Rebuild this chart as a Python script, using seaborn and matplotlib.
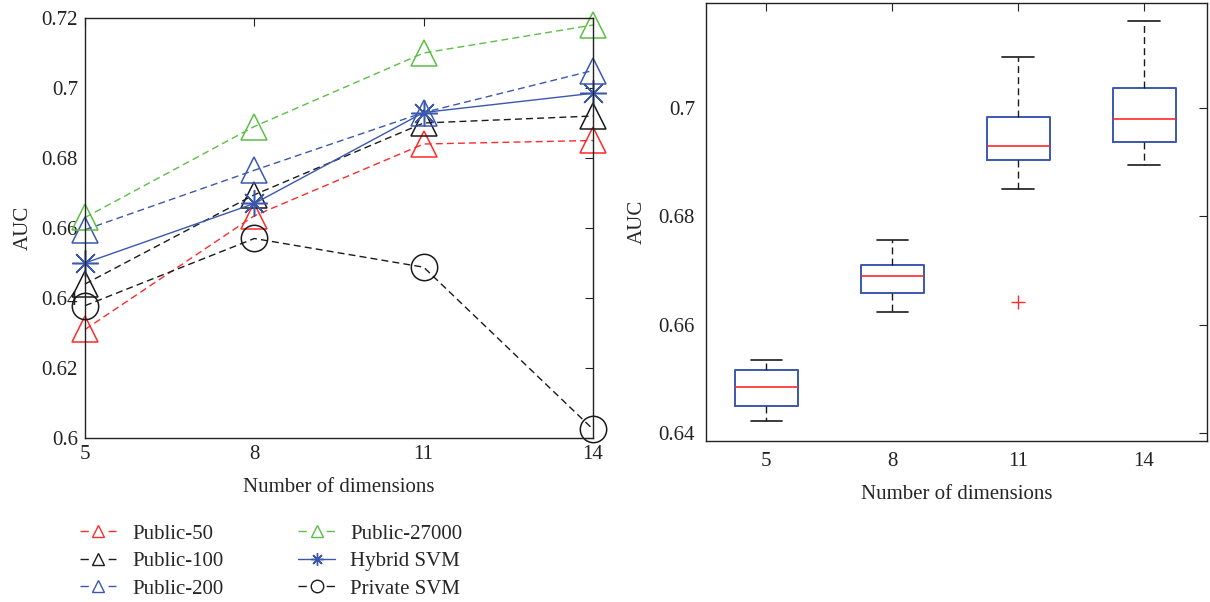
import numpy as np
import pandas as pd
import seaborn as sns
import matplotlib
matplotlib.use("Agg")
import matplotlib.pyplot as plt
from matplotlib.lines import Line2D

# ---------------- data ----------------
dims = [5, 8, 11, 14]
public_50 = [0.631, 0.6635, 0.684, 0.685]
public_100 = [0.644, 0.6695, 0.690, 0.692]
public_200 = [0.6595, 0.6765, 0.693, 0.705]
public_27000 = [0.663, 0.689, 0.710, 0.718]
hybrid_svm = [0.650, 0.667, 0.693, 0.6985]
private_svm = [0.6378, 0.657, 0.6488, 0.6025]

box_labels = ["5", "8", "11", "14"]
box_5 = [0.6423, 0.6450, 0.6485, 0.6517, 0.6535]
box_8 = [0.6623, 0.6658, 0.6690, 0.6711, 0.6757]
box_11 = [0.6643, 0.6851, 0.6904, 0.6915, 0.6930, 0.6955, 0.6983, 0.7040, 0.7094]
box_14 = [0.6895, 0.6936, 0.6980, 0.7036, 0.7159]

left_yticks = [0.6, 0.62, 0.64, 0.66, 0.68, 0.7, 0.72]
right_yticks = [0.64, 0.66, 0.68, 0.7]

# ---------------- style ----------------
sns.set_style("white")
plt.rcParams["font.family"] = ["Liberation Serif", "DejaVu Serif"]
plt.rcParams["xtick.direction"] = "in"
plt.rcParams["ytick.direction"] = "in"
FS = 15

RED = "#ff2a2a"
BLACK = "#1a1a1a"
BLUE = "#3a58b0"
GREEN = "#5cbf45"

fig = plt.figure(figsize=(12.10, 6.02), dpi=100)
ax1 = fig.add_axes([85 / 1210, 1 - 438 / 602, 508 / 1210, 420 / 602])
ax2 = fig.add_axes([706 / 1210, 1 - 441 / 602, 501 / 1210, 438 / 602])

series = [
    ("Public-50", public_50, RED, "^", True),
    ("Public-100", public_100, BLACK, "^", True),
    ("Public-200", public_200, BLUE, "^", True),
    ("Public-27000", public_27000, GREEN, "^", True),
    ("Hybrid SVM", hybrid_svm, BLUE, (8, 2, 0), False),
    ("Private SVM", private_svm, BLACK, "o", True),
]

handles = []
for name, vals, col, mk, dashed in series:
    df = pd.DataFrame({"dim": dims, "auc": vals})
    kw = dict(color=col, marker=mk, markersize=19, markerfacecolor="none",
              markeredgecolor=col, markeredgewidth=1.1, linewidth=1.0,
              clip_on=False)
    sns.lineplot(data=df, x="dim", y="auc", ax=ax1, legend=False, **kw)
    ln = ax1.lines[-1]
    if dashed:
        ln.set_dashes((5, 3))
    # legend proxy: short dash - marker - short dash
    h = Line2D([], [], color=col, marker=mk, markersize=9,
               markerfacecolor="none", markeredgecolor=col,
               markeredgewidth=1.0, linewidth=1.0)
    if dashed:
        h.set_dashes((6, 14.25))
    handles.append((h, name))

if ax1.get_legend() is not None:
    ax1.get_legend().remove()

ax1.set_xlim(5, 14)
ax1.set_ylim(0.6, 0.72)
ax1.set_xticks(dims)
ax1.set_xticklabels([str(d) for d in dims], fontsize=FS)
ax1.set_yticks(left_yticks)
ax1.set_yticklabels(["%g" % v for v in left_yticks], fontsize=FS)
ax1.set_xlabel("Number of dimensions", fontsize=FS, labelpad=10)
ax1.set_ylabel("AUC", fontsize=FS, labelpad=6)
ax1.tick_params(top=True, right=True, length=6, width=0.8, pad=5, colors="#222222")

for sp in ax1.spines.values():
    sp.set_color("#222222")
    sp.set_linewidth(1.0)

leg = fig.legend([h for h, _ in handles], [n for _, n in handles], loc="upper left",
                 bbox_to_anchor=(80 / 1210, 1 - 524 / 602),
                 ncol=2, frameon=False, fontsize=FS,
                 handlelength=1.75, handletextpad=0.75, columnspacing=3.6,
                 labelspacing=0.38, borderpad=0, borderaxespad=0)

# ---------------- right: boxplot ----------------
groups = [box_5, box_8, box_11, box_14]
box_df = pd.DataFrame({
    "dim": np.concatenate([[lab] * len(g) for lab, g in zip(box_labels, groups)]),
    "auc": np.concatenate(groups),
})
sns.boxplot(data=box_df, x="dim", y="auc", order=box_labels, ax=ax2,
            fill=False, width=0.5, linecolor=BLACK, linewidth=1.2, whis=1.5,
            boxprops=dict(color=BLUE, linewidth=1.4),
            medianprops=dict(color=RED, linewidth=1.2),
            whiskerprops=dict(color=BLACK, linestyle=(0, (5, 3)), linewidth=1.0),
            capprops=dict(color=BLACK, linewidth=1.2),
            flierprops=dict(marker="+", markeredgecolor=RED, markersize=10,
                            markeredgewidth=1.0))

ax2.set_xlim(-0.48, 3.5)
ax2.set_ylim(0.6386, 0.7193)
ax2.set_yticks(right_yticks)
ax2.set_yticklabels(["%g" % v for v in right_yticks], fontsize=FS)
ax2.set_xticks(range(4))
ax2.set_xticklabels(box_labels, fontsize=FS)
ax2.set_xlabel("Number of dimensions", fontsize=FS, labelpad=10)
ax2.set_ylabel("AUC", fontsize=FS, labelpad=8)
ax2.tick_params(top=True, right=True, length=6, width=0.8, pad=8, colors="#222222")
for sp in ax2.spines.values():
    sp.set_visible(True)
    sp.set_color("#222222")
    sp.set_linewidth(1.0)

fig.savefig("out.png", dpi=100)
